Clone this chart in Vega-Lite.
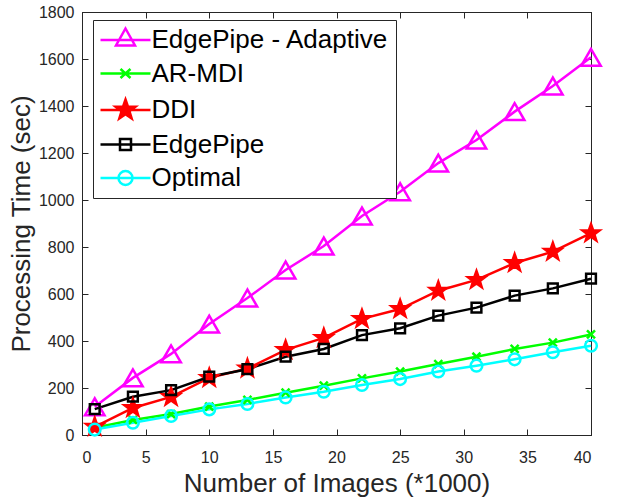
{
  "$schema": "https://vega.github.io/schema/vega-lite/v6.json",
  "width": 509,
  "height": 423,
  "autosize": {"type": "none"},
  "padding": {"left": 82, "top": 12, "right": 44, "bottom": 68},
  "background": "white",
  "config": {
    "font": "Liberation Sans",
    "view": {"stroke": "#262626", "strokeWidth": 1},
    "axis": {
      "grid": false,
      "domainColor": "#262626",
      "tickColor": "#262626",
      "labelColor": "#262626",
      "titleColor": "#262626",
      "labelFont": "Liberation Sans",
      "titleFont": "Liberation Sans",
      "labelFontSize": 16,
      "titleFontSize": 26,
      "titleFontWeight": "normal",
      "tickSize": -6,
      "labelPadding": 14
    }
  },
  "data": {
    "values": [
      {"series": "EdgePipe - Adaptive", "x": 1, "y": 120},
      {"series": "EdgePipe - Adaptive", "x": 4, "y": 243},
      {"series": "EdgePipe - Adaptive", "x": 7, "y": 345},
      {"series": "EdgePipe - Adaptive", "x": 10, "y": 472},
      {"series": "EdgePipe - Adaptive", "x": 13, "y": 583},
      {"series": "EdgePipe - Adaptive", "x": 16, "y": 702},
      {"series": "EdgePipe - Adaptive", "x": 19, "y": 804},
      {"series": "EdgePipe - Adaptive", "x": 22, "y": 932},
      {"series": "EdgePipe - Adaptive", "x": 25, "y": 1035},
      {"series": "EdgePipe - Adaptive", "x": 28, "y": 1157},
      {"series": "EdgePipe - Adaptive", "x": 31, "y": 1255},
      {"series": "EdgePipe - Adaptive", "x": 34, "y": 1376},
      {"series": "EdgePipe - Adaptive", "x": 37, "y": 1485},
      {"series": "EdgePipe - Adaptive", "x": 40, "y": 1607},
      {"series": "AR-MDI", "x": 1, "y": 31},
      {"series": "AR-MDI", "x": 4, "y": 64},
      {"series": "AR-MDI", "x": 7, "y": 89},
      {"series": "AR-MDI", "x": 10, "y": 121},
      {"series": "AR-MDI", "x": 13, "y": 149},
      {"series": "AR-MDI", "x": 16, "y": 180},
      {"series": "AR-MDI", "x": 19, "y": 210},
      {"series": "AR-MDI", "x": 22, "y": 241},
      {"series": "AR-MDI", "x": 25, "y": 270},
      {"series": "AR-MDI", "x": 28, "y": 302},
      {"series": "AR-MDI", "x": 31, "y": 333},
      {"series": "AR-MDI", "x": 34, "y": 366},
      {"series": "AR-MDI", "x": 37, "y": 393},
      {"series": "AR-MDI", "x": 40, "y": 428},
      {"series": "DDI", "x": 1, "y": 35},
      {"series": "DDI", "x": 4, "y": 115},
      {"series": "DDI", "x": 7, "y": 162},
      {"series": "DDI", "x": 10, "y": 243},
      {"series": "DDI", "x": 13, "y": 283},
      {"series": "DDI", "x": 16, "y": 362},
      {"series": "DDI", "x": 19, "y": 413},
      {"series": "DDI", "x": 22, "y": 494},
      {"series": "DDI", "x": 25, "y": 536},
      {"series": "DDI", "x": 28, "y": 614},
      {"series": "DDI", "x": 31, "y": 660},
      {"series": "DDI", "x": 34, "y": 732},
      {"series": "DDI", "x": 37, "y": 780},
      {"series": "DDI", "x": 40, "y": 859},
      {"series": "EdgePipe", "x": 1, "y": 110},
      {"series": "EdgePipe", "x": 4, "y": 163},
      {"series": "EdgePipe", "x": 7, "y": 191},
      {"series": "EdgePipe", "x": 10, "y": 248},
      {"series": "EdgePipe", "x": 13, "y": 280},
      {"series": "EdgePipe", "x": 16, "y": 333},
      {"series": "EdgePipe", "x": 19, "y": 366},
      {"series": "EdgePipe", "x": 22, "y": 425},
      {"series": "EdgePipe", "x": 25, "y": 454},
      {"series": "EdgePipe", "x": 28, "y": 508},
      {"series": "EdgePipe", "x": 31, "y": 542},
      {"series": "EdgePipe", "x": 34, "y": 593},
      {"series": "EdgePipe", "x": 37, "y": 624},
      {"series": "EdgePipe", "x": 40, "y": 665},
      {"series": "Optimal", "x": 1, "y": 23},
      {"series": "Optimal", "x": 4, "y": 52},
      {"series": "Optimal", "x": 7, "y": 81},
      {"series": "Optimal", "x": 10, "y": 109},
      {"series": "Optimal", "x": 13, "y": 132},
      {"series": "Optimal", "x": 16, "y": 160},
      {"series": "Optimal", "x": 19, "y": 184},
      {"series": "Optimal", "x": 22, "y": 213},
      {"series": "Optimal", "x": 25, "y": 238},
      {"series": "Optimal", "x": 28, "y": 270},
      {"series": "Optimal", "x": 31, "y": 295},
      {"series": "Optimal", "x": 34, "y": 322},
      {"series": "Optimal", "x": 37, "y": 352},
      {"series": "Optimal", "x": 40, "y": 380}
    ]
  },
  "resolve": {
    "scale": {"shape": "independent", "stroke": "independent", "fill": "independent", "size": "independent"},
    "axis": {"x": "independent", "y": "independent"}
  },
  "layer": [
    {
      "mark": {"type": "line", "strokeWidth": 2.5},
      "encoding": {
        "x": {"field": "x", "type": "quantitative", "scale": {"domain": [0, 40], "nice": false}, "axis": {"values": [0,5,10,15,20,25,30,35,40], "title": "Number of Images (*1000)", "titlePadding": 5, "labelPadding": 20}},
        "y": {"field": "y", "type": "quantitative", "scale": {"domain": [0, 1800], "nice": false}, "axis": {"values": [0,200,400,600,800,1000,1200,1400,1600,1800], "format": "d", "title": "Processing Time (sec)", "titlePadding": 4}},
        "stroke": {"field": "series", "type": "nominal", "legend": null,
          "scale": {"domain": ["EdgePipe - Adaptive","AR-MDI","DDI","EdgePipe","Optimal"], "range": ["#ff00ff","#00ff00","#ff0000","#000000","#00ffff"]}},
        "order": {"field": "x", "type": "quantitative"}
      }
    },
    {
      "mark": {"type": "point", "strokeWidth": 2.5, "opacity": 1},
      "encoding": {
        "x": {"field": "x", "type": "quantitative", "axis": null},
        "y": {"field": "y", "type": "quantitative", "axis": null},
        "stroke": {"field": "series", "type": "nominal", "legend": null,
          "scale": {"domain": ["EdgePipe - Adaptive","AR-MDI","DDI","EdgePipe","Optimal"], "range": ["#ff00ff","#00ff00","#ff0000","#000000","#00ffff"]}},
        "fill": {"field": "series", "type": "nominal", "legend": null,
          "scale": {"domain": ["EdgePipe - Adaptive","AR-MDI","DDI","EdgePipe","Optimal"], "range": ["transparent","#00ff00","#ff0000","transparent","transparent"]}},
        "shape": {"field": "series", "type": "nominal", "legend": null,
          "scale": {"domain": ["EdgePipe - Adaptive","AR-MDI","DDI","EdgePipe","Optimal"], "range": ["triangle-up","M-1,-1L1,1M-1,1L1,-1","M0,-1L0.235,-0.324L0.951,-0.309L0.380,0.124L0.588,0.809L0,0.4L-0.588,0.809L-0.380,0.124L-0.951,-0.309L-0.235,-0.324Z","square","circle"]}},
        "size": {"field": "series", "type": "nominal", "legend": null,
          "scale": {"type": "ordinal", "domain": ["EdgePipe - Adaptive","AR-MDI","DDI","EdgePipe","Optimal"], "range": [380, 64, 320, 95, 135]}}
      }
    },
    {
      "mark": {"type": "point", "strokeWidth": 2.5, "opacity": 0},
      "encoding": {
        "x": {"field": "x", "type": "quantitative", "axis": {"orient": "top", "labels": false, "title": null, "values": [0,5,10,15,20,25,30,35,40]}},
        "y": {"field": "y", "type": "quantitative", "axis": {"orient": "right", "labels": false, "title": null, "values": [0,200,400,600,800,1000,1200,1400,1600,1800]}},
        "stroke": {"field": "series", "type": "nominal",
          "scale": {"domain": ["EdgePipe - Adaptive","AR-MDI","DDI","EdgePipe","Optimal"], "range": ["#ff00ff","#00ff00","#ff0000","#000000","#00ffff"]},
          "legend": {
            "orient": "none", "legendX": 11, "legendY": 8, "title": null,
            "padding": 7, "strokeColor": "#262626", "fillColor": "white",
            "symbolSize": 100, "symbolStrokeWidth": 2.5, "symbolOffset": 12.5,
            "labelFont": "Liberation Sans", "labelFontSize": 26, "labelColor": "black",
            "labelOffset": 13, "rowPadding": 7.5, "labelLimit": 400,
            "encode": {"symbols": {"update": {"opacity": {"value": 1}, "strokeOpacity": {"value": 1}}}}
          }},
        "shape": {"field": "series", "type": "nominal",
          "scale": {"domain": ["EdgePipe - Adaptive","AR-MDI","DDI","EdgePipe","Optimal"], "range": [
            "M-5,0L5,0M0,-2.3L1.9,1.1L-1.9,1.1Z",
            "M-5,0L5,0M-1,-0.9L1,0.9M-1,0.9L1,-0.9",
            "M-5,0L5,0M0,-2.1L0.494,-0.68L1.997,-0.649L0.798,0.26L1.235,1.699L0,0.84L-1.235,1.699L-0.798,0.26L-1.997,-0.649L-0.494,-0.68ZM0,-1.6L0.376,-0.518L1.522,-0.494L0.608,0.198L0.941,1.294L0,0.64L-0.941,1.294L-0.608,0.198L-1.522,-0.494L-0.376,-0.518ZM0,-1.1L0.259,-0.356L1.046,-0.34L0.418,0.136L0.647,0.89L0,0.44L-0.647,0.89L-0.418,0.136L-1.046,-0.34L-0.259,-0.356ZM0,-0.6L0.141,-0.194L0.571,-0.185L0.228,0.074L0.353,0.485L0,0.24L-0.353,0.485L-0.228,0.074L-0.571,-0.185L-0.141,-0.194ZM-0.2,0L0.2,0",
            "M-5,0L5,0M-1.1,-1.1L1.1,-1.1L1.1,1.1L-1.1,1.1Z",
            "M-5,0L5,0M-1.4,0A1.4,1.4 0 1,0 1.4,0A1.4,1.4 0 1,0 -1.4,0Z"]}}
      }
    }
  ]
}
